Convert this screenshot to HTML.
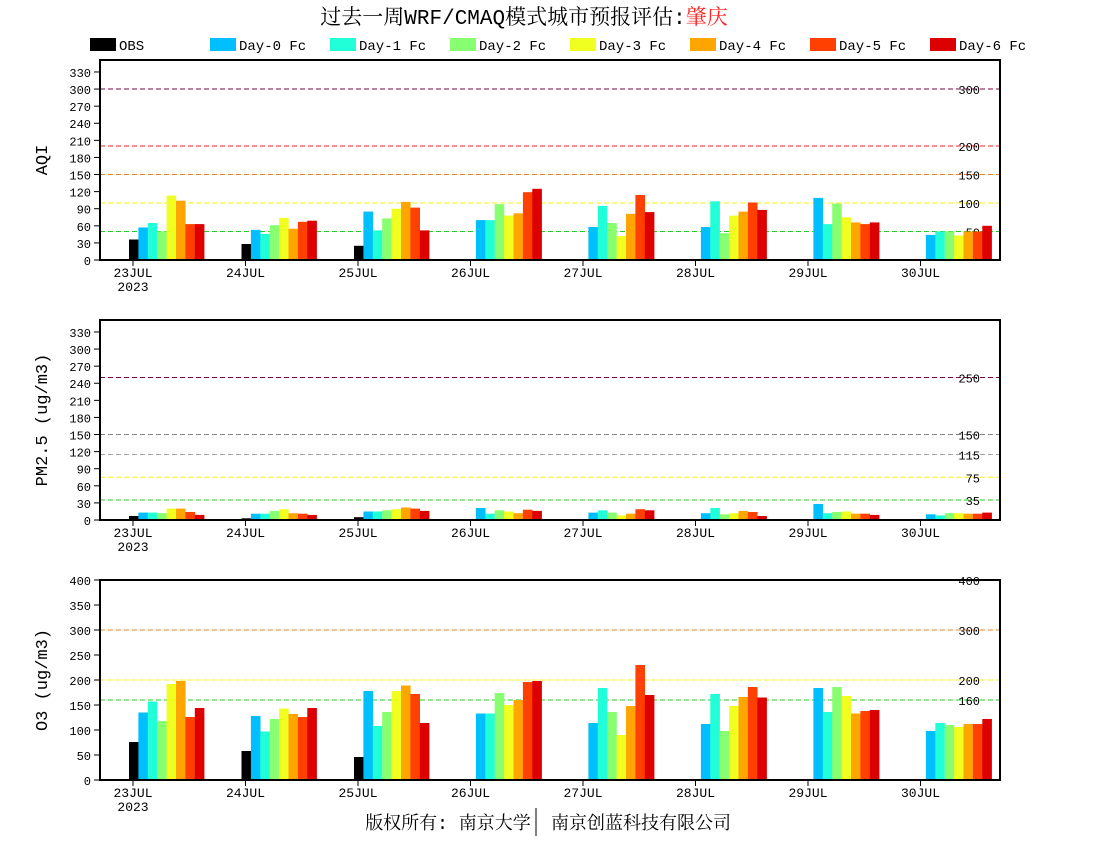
<!DOCTYPE html>
<html><head><meta charset="utf-8"><style>
body{margin:0;background:#fff;}
svg text{font-family:"Liberation Mono","Noto Serif CJK SC",monospace;}
</style></head><body>
<svg id="s" width="1100" height="850" xmlns="http://www.w3.org/2000/svg"></svg>
<script>
const S=document.getElementById('s');let h='';
const cols=['#000000','#00BFFF','#20FFD8','#88FF70','#F0FF20','#FFA500','#FF4000','#DD0000'];
h+='<text x="524" y="24" font-size="21" text-anchor="middle" font-family="Liberation Serif,Noto Serif CJK SC,serif">过去一周WRF/CMAQ模式城市预报评估:<tspan fill="#ff2020">肇庆</tspan></text>';
const leg=['OBS','Day-0 Fc','Day-1 Fc','Day-2 Fc','Day-3 Fc','Day-4 Fc','Day-5 Fc','Day-6 Fc'];
const lx=[90,210,330,450,570,690,810,930];
leg.forEach((t,i)=>{h+=`<rect x="${lx[i]}" y="38" width="26" height="13" fill="${cols[i]}"/><text x="${lx[i]+29}" y="50" font-size="14">${t}</text>`;});
const panels=[
{top:60,max:351,ticks:[0,30,60,90,120,150,180,210,240,270,300,330],label:'AQI',
lines:[[300,'#800040','300'],[200,'#ff2020','200'],[150,'#f08020','150'],[100,'#f0f020','100'],[50,'#20d020','50']],
data:[[36,57,65,50,113,104,63,63],[28,53,46,61,74,55,67,69],[25,85,52,73,90,102,92,52],[null,70,70,98,78,82,119,125],[null,58,95,65,42,81,114,84],[null,58,103,47,78,85,101,88],[null,109,63,99,75,66,63,66],[null,44,50,50,43,50,50,60]]},
{top:320,max:351,ticks:[0,30,60,90,120,150,180,210,240,270,300,330],label:'PM2.5 (ug/m3)',
lines:[[250,'#800040','250'],[150,'#808080','150'],[115,'#a0a0a0','115'],[75,'#f0f020','75'],[35,'#20d020','35']],
data:[[7,13,13,12,20,20,14,9],[3,11,11,16,19,12,11,9],[5,15,15,17,19,22,20,16],[null,21,11,17,15,12,18,16],[null,13,17,13,8,11,19,17],[null,12,21,10,12,16,14,7],[null,28,12,14,15,11,11,9],[null,10,8,12,12,11,11,13]]},
{top:580,max:400,ticks:[0,50,100,150,200,250,300,350,400],label:'O3 (ug/m3)',
lines:[[400,'#ff0000','400'],[300,'#f08020','300'],[200,'#f0f020','200'],[160,'#20d020','160']],
data:[[76,135,157,118,192,198,126,144],[58,128,97,122,143,132,126,144],[46,178,108,136,178,189,172,114],[null,133,133,174,150,160,196,198],[null,114,184,136,90,148,230,170],[null,112,172,98,148,166,186,165],[null,184,136,186,168,133,138,140],[null,98,114,110,106,112,112,122]]}];
const days=['23JUL','24JUL','25JUL','26JUL','27JUL','28JUL','29JUL','30JUL'];
panels.forEach(p=>{
 const b=p.top+200,k=200/p.max,Y=v=>b-v*k;
 p.lines.forEach(l=>{h+=`<line x1="100" x2="1000" y1="${Y(l[0])}" y2="${Y(l[0])}" stroke="${l[1]}" stroke-dasharray="5,3"/><text x="980" y="${Y(l[0])+5}" font-size="12" text-anchor="end">${l[2]}</text>`;});
 p.data.forEach((d,i)=>{const t=133+112.5*i;d.forEach((v,j)=>{if(v==null)return;h+=`<rect x="${(t-4+9.4*j).toFixed(1)}" y="${Y(v).toFixed(1)}" width="9.6" height="${(v*k).toFixed(1)}" fill="${cols[j]}"/>`;});
  h+=`<line x1="${t}" x2="${t}" y1="${b}" y2="${b+6}" stroke="#000"/><text x="${t}" y="${b+17}" font-size="13" text-anchor="middle">${days[i]}</text>`;});
 h+=`<text x="${133}" y="${b+31}" font-size="13" text-anchor="middle">2023</text>`;
 p.ticks.forEach(v=>{h+=`<line x1="94" x2="100" y1="${Y(v)}" y2="${Y(v)}" stroke="#000"/><text x="91" y="${Y(v)+5}" font-size="12" text-anchor="end">${v}</text>`;});
 h+=`<rect x="100" y="${p.top}" width="900" height="200" fill="none" stroke="#000" stroke-width="2"/>`;
 h+=`<text transform="translate(47,${p.top+100}) rotate(-90)" font-size="17" text-anchor="middle" font-family="Liberation Serif,serif">${p.label}</text>`;
});
h+='<text x="448" y="829" font-size="18" text-anchor="middle" font-family="Liberation Serif,Noto Serif CJK SC,serif">版权所有: 南京大学</text><text x="641" y="829" font-size="18" text-anchor="middle" font-family="Liberation Serif,Noto Serif CJK SC,serif">南京创蓝科技有限公司</text><line x1="536" x2="536" y1="808" y2="836" stroke="#000"/>';
S.innerHTML=h;
</script>
</body></html>
